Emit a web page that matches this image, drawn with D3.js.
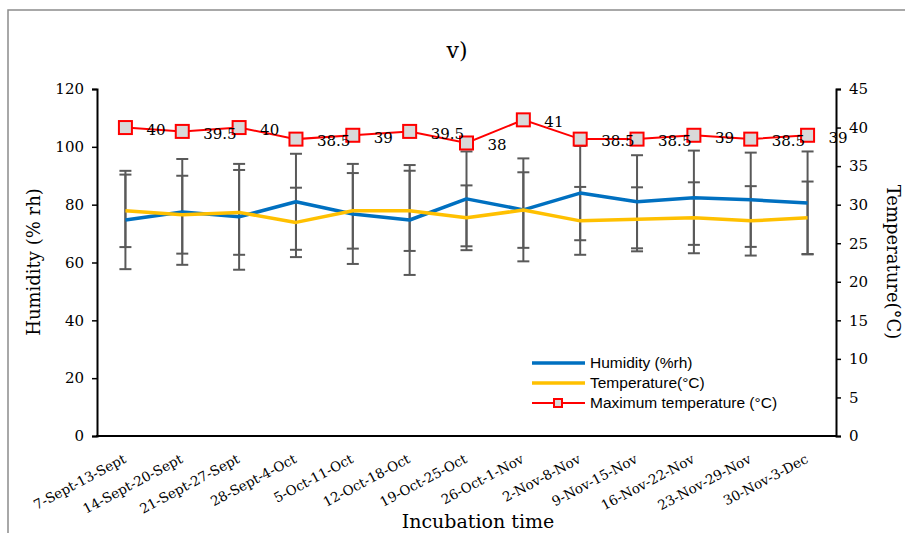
<!DOCTYPE html>
<html>
<head>
<meta charset="utf-8">
<script src="https://cdn.jsdelivr.net/npm/d3@7"></script>
<style>
  html, body { margin: 0; padding: 0; background: #fff; }
  svg { display: block; }
</style>
</head>
<body>
<div id="chart"></div>
<script>
// Weekly incubation conditions
const categories = ['7-Sept-13-Sept', '14-Sept-20-Sept', '21-Sept-27-Sept', '28-Sept-4-Oct',
  '5-Oct-11-Oct', '12-Oct-18-Oct', '19-Oct-25-Oct', '26-Oct-1-Nov', '2-Nov-8-Nov',
  '9-Nov-15-Nov', '16-Nov-22-Nov', '23-Nov-29-Nov', '30-Nov-3-Dec'];
const humidity = [74.7, 77.5, 75.8, 81, 76.8, 74.7, 82, 78.2, 84, 81, 82.4, 81.7, 80.6];
const humiditySD = [17, 18.3, 18.3, 16.6, 17.3, 19, 16.4, 17.8, 16.3, 16.1, 16.3, 16.3, 17.8];
const temperature = [29.2, 28.7, 29.0, 27.7, 29.2, 29.2, 28.3, 29.3, 27.9, 28.1, 28.3, 27.9, 28.3];
const temperatureSD = [4.7, 5.05, 5.5, 4.5, 4.9, 5.2, 4.2, 4.9, 4.4, 4.15, 4.6, 4.5, 4.7];
const maxTemp = [40, 39.5, 40, 38.5, 39, 39.5, 38, 41, 38.5, 38.5, 39, 38.5, 39];
const leftTicks = [0, 20, 40, 60, 80, 100, 120];
const rightTicks = [0, 5, 10, 15, 20, 25, 30, 35, 40, 45];

const width = 905, height = 533;
const serif = 'DejaVu Serif';
const sans = 'Liberation Sans';

const svg = d3.select('#chart').append('svg')
  .attr('width', width)
  .attr('height', height);

// chart frame
svg.append('rect')
  .attr('x', 8).attr('y', 10)
  .attr('width', width).attr('height', height)
  .attr('fill', 'none')
  .attr('stroke', '#8c8c8c')
  .attr('stroke-width', 1.5);

const x = d3.scalePoint().domain(categories).range([97, 836]).padding(0.5);
const yL = d3.scaleLinear().domain([0, 120]).range([436, 89]);
const yR = d3.scaleLinear().domain([0, 45]).range([436, 89]);

// Axes
const leftAxis = svg.append('g')
  .attr('transform', 'translate(97,0)')
  .call(d3.axisLeft(yL).tickValues(leftTicks).tickSize(5).tickPadding(8));
const rightAxis = svg.append('g')
  .attr('transform', 'translate(836,0)')
  .call(d3.axisRight(yR).tickValues(rightTicks).tickSize(5).tickPadding(8));
const bottomAxis = svg.append('g')
  .attr('transform', 'translate(0,436)')
  .call(d3.axisBottom(x).tickSize(0).tickPadding(0));

[leftAxis, rightAxis, bottomAxis].forEach(a => {
  a.select('.domain').attr('stroke', '#000').attr('stroke-width', 2);
  a.selectAll('.tick line').attr('stroke', '#000').attr('stroke-width', 1.5);
  a.selectAll('.tick text')
    .attr('font-family', serif)
    .attr('font-size', 15)
    .attr('fill', '#000');
});
bottomAxis.select('.domain').attr('d', 'M96,0H837');

bottomAxis.selectAll('.tick text')
  .attr('font-size', 13.5)
  .attr('text-anchor', 'end')
  .attr('dy', 0)
  .attr('transform', 'translate(1,26) rotate(-28)');

// Error bars (humidity on left scale, temperature on right scale)
const cap = 6;
function errorBars(values, sds, scale, cls) {
  const g = svg.append('g').attr('class', cls)
    .attr('stroke', '#595959')
    .attr('stroke-width', 2);
  const rows = categories.map((c, i) => ({ c, lo: values[i] - sds[i], hi: values[i] + sds[i] }));
  g.selectAll('line.v').data(rows).join('line').attr('class', 'v')
    .attr('x1', d => x(d.c)).attr('x2', d => x(d.c))
    .attr('y1', d => scale(d.lo)).attr('y2', d => scale(d.hi));
  ['lo', 'hi'].forEach(k => {
    g.selectAll('line.' + k).data(rows).join('line').attr('class', k)
      .attr('x1', d => x(d.c) - cap).attr('x2', d => x(d.c) + cap)
      .attr('y1', d => scale(d[k])).attr('y2', d => scale(d[k]));
  });
}
errorBars(humidity, humiditySD, yL, 'err-hum');
errorBars(temperature, temperatureSD, yR, 'err-temp');

// Lines
const lineL = d3.line().x((d, i) => x(categories[i])).y(d => yL(d));
const lineR = d3.line().x((d, i) => x(categories[i])).y(d => yR(d));

svg.append('path').datum(humidity)
  .attr('d', lineL)
  .attr('fill', 'none')
  .attr('stroke', '#0070C0')
  .attr('stroke-width', 3.5)
  .attr('stroke-linejoin', 'round');

svg.append('path').datum(temperature)
  .attr('d', lineR)
  .attr('fill', 'none')
  .attr('stroke', '#FFC000')
  .attr('stroke-width', 3.5)
  .attr('stroke-linejoin', 'round');

svg.append('path').datum(maxTemp)
  .attr('d', lineR)
  .attr('fill', 'none')
  .attr('stroke', '#FF0000')
  .attr('stroke-width', 2);

const ms = 13;
svg.append('g').selectAll('rect')
  .data(maxTemp)
  .join('rect')
  .attr('x', (d, i) => x(categories[i]) - ms / 2)
  .attr('y', d => yR(d) - ms / 2)
  .attr('width', ms).attr('height', ms)
  .attr('fill', '#D9D9D9')
  .attr('stroke', '#FF0000')
  .attr('stroke-width', 2);

// data labels, right of markers
svg.append('g').selectAll('text')
  .data(maxTemp)
  .join('text')
  .attr('x', (d, i) => x(categories[i]) + 21)
  .attr('y', d => yR(d) + 2)
  .attr('dy', '0.35em')
  .attr('font-family', serif)
  .attr('font-size', 15)
  .attr('fill', '#000')
  .text(d => d);

// Titles
svg.append('text')
  .attr('x', 457).attr('y', 58)
  .attr('text-anchor', 'middle')
  .attr('font-family', serif)
  .attr('font-size', 22)
  .text('v)');

svg.append('text')
  .attr('x', 478).attr('y', 528)
  .attr('text-anchor', 'middle')
  .attr('font-family', serif)
  .attr('font-size', 19)
  .text('Incubation time');

svg.append('text')
  .attr('transform', 'translate(40,262) rotate(-90)')
  .attr('text-anchor', 'middle')
  .attr('font-family', serif)
  .attr('font-size', 18)
  .text('Humidity (% rh)');

svg.append('text')
  .attr('transform', 'translate(887,262) rotate(90)')
  .attr('text-anchor', 'middle')
  .attr('font-family', serif)
  .attr('font-size', 18)
  .text('Temperature(°C)');

// Legend
const legendItems = [
  { label: 'Humidity (%rh)', color: '#0070C0', w: 3.5, marker: false },
  { label: 'Temperature(°C)', color: '#FFC000', w: 3.5, marker: false },
  { label: 'Maximum temperature (°C)', color: '#FF0000', w: 2, marker: true }
];
const legend = svg.append('g').attr('transform', 'translate(532,363)');
const li = legend.selectAll('g').data(legendItems).join('g')
  .attr('transform', (d, i) => `translate(0,${i * 20})`);
li.append('line')
  .attr('x1', 0).attr('x2', 53)
  .attr('stroke', d => d.color)
  .attr('stroke-width', d => d.w);
li.filter(d => d.marker).append('rect')
  .attr('x', 22).attr('y', -4).attr('width', 8).attr('height', 8)
  .attr('fill', '#D9D9D9').attr('stroke', '#FF0000').attr('stroke-width', 2);
li.append('text')
  .attr('x', 58).attr('dy', '0.35em')
  .attr('font-family', sans)
  .attr('font-size', 15.5)
  .attr('fill', '#000')
  .text(d => d.label);
</script>
</body>
</html>
